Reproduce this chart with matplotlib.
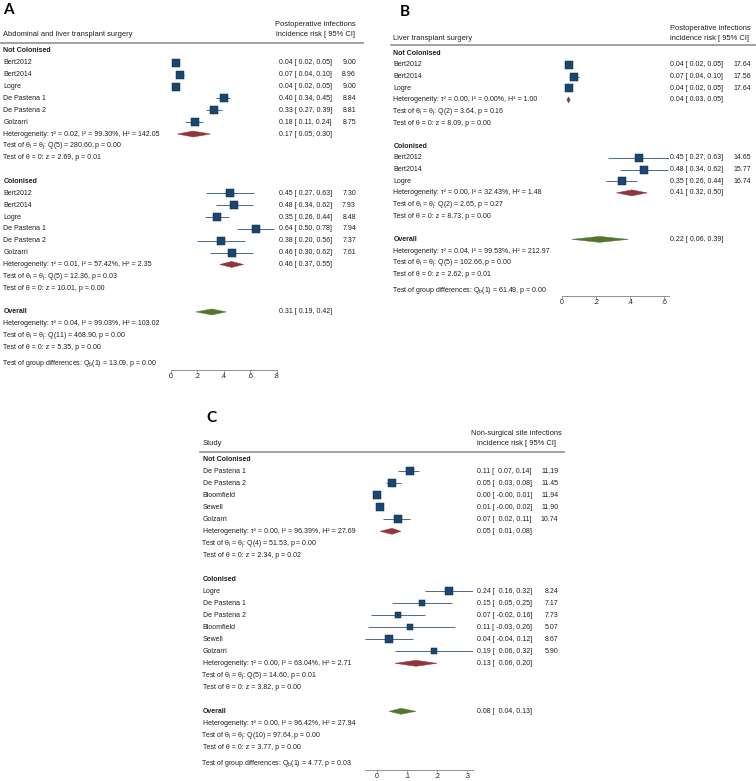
import matplotlib
matplotlib.use("Agg")
import matplotlib.pyplot as plt
from matplotlib.transforms import blended_transform_factory
from matplotlib.patches import Polygon
from matplotlib.lines import Line2D
import numpy as np

plt.rcParams['font.family'] = ['Liberation Sans', 'DejaVu Sans']
plt.rcParams['mathtext.fontset'] = 'custom'
plt.rcParams['mathtext.rm'] = 'Liberation Sans'
plt.rcParams['mathtext.it'] = 'Liberation Sans:italic'
plt.rcParams['mathtext.bf'] = 'Liberation Sans:bold'

# ---------------- DATA ----------------
# Panel A: Abdominal and liver transplant surgery
A_nc_study = ["Bert2012", "Bert2014", "Logre", "De Pastena 1", "De Pastena 2", "Golzarri"]
A_nc_est = [0.04, 0.07, 0.04, 0.40, 0.33, 0.18]
A_nc_lo = [0.02, 0.04, 0.02, 0.34, 0.27, 0.11]
A_nc_hi = [0.05, 0.10, 0.05, 0.45, 0.39, 0.24]
A_nc_wt = [9.00, 8.96, 9.00, 8.84, 8.81, 8.75]
A_nc_pool = [0.17, 0.05, 0.30]
A_nc_stats = ["0.02", "99.30%", "142.05", "5", "280.60", "0.00", "2.69", "0.01"]

A_col_study = ["Bert2012", "Bert2014", "Logre", "De Pastena 1", "De Pastena 2", "Golzarri"]
A_col_est = [0.45, 0.48, 0.35, 0.64, 0.38, 0.46]
A_col_lo = [0.27, 0.34, 0.26, 0.50, 0.20, 0.30]
A_col_hi = [0.63, 0.62, 0.44, 0.78, 0.56, 0.62]
A_col_wt = [7.30, 7.93, 8.48, 7.94, 7.37, 7.61]
A_col_pool = [0.46, 0.37, 0.55]
A_col_stats = ["0.01", "57.42%", "2.35", "5", "12.36", "0.03", "10.01", "0.00"]

A_all_pool = [0.31, 0.19, 0.42]
A_all_stats = ["0.04", "99.03%", "103.02", "11", "468.90", "0.00", "5.35", "0.00"]
A_groupdiff = ["1", "13.09", "0.00"]
A_ticks = [0, 0.2, 0.4, 0.6, 0.8]

# Panel B: Liver transplant surgery
B_nc_study = ["Bert2012", "Bert2014", "Logre"]
B_nc_est = [0.04, 0.07, 0.04]
B_nc_lo = [0.02, 0.04, 0.02]
B_nc_hi = [0.05, 0.10, 0.05]
B_nc_wt = [17.64, 17.56, 17.64]
B_nc_pool = [0.04, 0.03, 0.05]
B_nc_stats = ["0.00", "0.00%", "1.00", "2", "3.64", "0.16", "8.09", "0.00"]

B_col_study = ["Bert2012", "Bert2014", "Logre"]
B_col_est = [0.45, 0.48, 0.35]
B_col_lo = [0.27, 0.34, 0.26]
B_col_hi = [0.63, 0.62, 0.44]
B_col_wt = [14.65, 15.77, 16.74]
B_col_pool = [0.41, 0.32, 0.50]
B_col_stats = ["0.00", "32.43%", "1.48", "2", "2.65", "0.27", "8.73", "0.00"]

B_all_pool = [0.22, 0.06, 0.39]
B_all_stats = ["0.04", "99.53%", "212.97", "5", "102.66", "0.00", "2.62", "0.01"]
B_groupdiff = ["1", "61.49", "0.00"]
B_ticks = [0, 0.2, 0.4, 0.6]

# Panel C: Non-surgical site infections
C_nc_study = ["De Pastena 1", "De Pastena 2", "Bloomfield", "Sewell", "Golzarri"]
C_nc_est = [0.11, 0.05, 0.00, 0.01, 0.07]
C_nc_lo = [0.07, 0.03, -0.003, -0.003, 0.02]
C_nc_hi = [0.14, 0.08, 0.01, 0.02, 0.11]
C_nc_wt = [11.19, 11.45, 11.94, 11.90, 10.74]
C_nc_pool = [0.05, 0.01, 0.08]
C_nc_stats = ["0.00", "96.39%", "27.69", "4", "51.53", "0.00", "2.34", "0.02"]

C_col_study = ["Logre", "De Pastena 1", "De Pastena 2", "Bloomfield", "Sewell", "Golzarri"]
C_col_est = [0.24, 0.15, 0.07, 0.11, 0.04, 0.19]
C_col_lo = [0.16, 0.05, -0.02, -0.03, -0.04, 0.06]
C_col_hi = [0.32, 0.25, 0.16, 0.26, 0.12, 0.32]
C_col_wt = [8.24, 7.17, 7.73, 5.07, 8.67, 5.90]
C_col_pool = [0.13, 0.06, 0.20]
C_col_stats = ["0.00", "63.04%", "2.71", "5", "14.60", "0.01", "3.82", "0.00"]

C_all_pool = [0.08, 0.04, 0.13]
C_all_stats = ["0.00", "96.42%", "27.94", "10", "97.64", "0.00", "3.77", "0.00"]
C_groupdiff = ["1", "4.77", "0.03"]
C_ticks = [0, 0.1, 0.2, 0.3]

group_names = ["Not Colonised", "Colonised"]

# ---------------- STYLE ----------------
W, H = 756, 781
fig = plt.figure(figsize=(W / 100, H / 100), dpi=100)
fig.patch.set_facecolor('white')

NAVY = '#1A476F'
CI_COL = '#55708f'
MAROON = '#90353B'
GREEN = '#55752F'
TXT = '#1e1e1e'
FS = 5.0
HDR_FS = 5.45
MATH_SHIFT = -1.7


def fx(x):
    return x / W


def fy(y):
    return 1 - y / H


def draw_panel(L, groups, overall, gd, ticks, hdr_left, hdr_right, letter):
    xl, xr = L['xlim']
    left_px = L['x0'] + xl * L['ppu']
    right_px = L['x0'] + xr * L['ppu']
    top_px = L['y0'] - L['s']
    bot_px = L['axis_y']
    ax = fig.add_axes([fx(left_px), fy(bot_px), (right_px - left_px) / W,
                       (bot_px - top_px) / H])
    ax.set_xlim(xl, xr)
    ax.set_ylim((bot_px - L['y0']) / L['s'], -1)
    ax.patch.set_visible(False)
    for sp in ['top', 'left', 'right']:
        ax.spines[sp].set_visible(False)
    ax.spines['bottom'].set_color('#808080')
    ax.spines['bottom'].set_linewidth(0.6)
    ax.set_yticks([])
    ax.set_xticks(ticks)
    ax.set_xticklabels(["0" if t == 0 else ("%.1f" % t).lstrip('0') for t in ticks])
    ax.tick_params(axis='x', direction='out', length=1.8, width=0.5, colors='#808080',
                   labelcolor=TXT, labelsize=FS, pad=0.6)
    tr = blended_transform_factory(fig.transFigure, ax.transData)
    hd = 3.0 / L['s']

    def t(xpx, row, s, **kw):
        kw.setdefault('ha', 'left')
        ax.text(fx(xpx), row, s, transform=tr, va='center', fontsize=FS, color=TXT, **kw)

    def ci_str(e, lo, hi):
        if L['negpad']:
            return "%.2f [%6.2f, %.2f]" % (e, lo, hi)
        return "%.2f [ %.2f, %.2f]" % (e, lo, hi)

    def stats_rows(row, st):
        t(L['left'], row, "Heterogeneity: τ² = %s, I² = %s, H² = %s" % (st[0], st[1], st[2]))
        t(L['left'] + MATH_SHIFT, row + 1,
          r"Test of θ$_\mathrm{i}$ = θ$_\mathrm{j}$: Q(%s) = %s, p = %s" % (st[3], st[4], st[5]))
        t(L['left'], row + 2, "Test of θ = 0: z = %s, p = %s" % (st[6], st[7]))

    def diamond(row, pool, col):
        e, lo, hi = pool
        ax.add_patch(Polygon([(lo, row), (e, row - hd), (hi, row), (e, row + hd)],
                             closed=True, facecolor=col, edgecolor=col, lw=0.3, zorder=3))
        t(L['est_x'], row, ci_str(e, lo, hi))

    row = 0
    for name, (study, est, lo, hi, wt, pool, st) in zip(group_names, groups):
        t(L['left'], row, name, fontweight='bold')
        row += 1
        for i in range(len(study)):
            t(L['left'], row, study[i])
            ax.plot([lo[i], hi[i]], [row, row], color=CI_COL, lw=0.75, zorder=2,
                    solid_capstyle='butt')
            side = L['k'] * np.sqrt(wt[i]) * 0.72
            ax.scatter([est[i]], [row], marker='s', s=side ** 2, facecolor=NAVY,
                       edgecolor='#0c2a48', linewidths=0.35, zorder=4)
            t(L['est_x'], row, ci_str(est[i], lo[i], hi[i]))
            t(L['wt_x'], row, "%.2f" % wt[i], ha='right')
            row += 1
        diamond(row, pool, MAROON)
        stats_rows(row, st)
        row += 4
    pool, st = overall
    t(L['left'], row, "Overall", fontweight='bold')
    diamond(row, pool, GREEN)
    stats_rows(row + 1, st)
    gd_row = row + 4 + L['gd_off'] / L['s']
    t(L['left'] + MATH_SHIFT, gd_row,
      r"Test of group differences: Q$_\mathrm{b}$(%s) = %s, p = %s" % tuple(gd))

    # header
    fig.text(fx(L['left']), fy(L['hdr_y'][1]), hdr_left, fontsize=HDR_FS, color=TXT,
             ha='left', va='center')
    fig.text(fx(L['hdr_cx']), fy(L['hdr_y'][0]), hdr_right[0], fontsize=HDR_FS, color=TXT,
             ha='center', va='center')
    fig.text(fx(L['hdr_cx']), fy(L['hdr_y'][1]), hdr_right[1], fontsize=HDR_FS, color=TXT,
             ha='center', va='center')
    fig.add_artist(Line2D([fx(L['line_x'][0]), fx(L['line_x'][1])],
                          [fy(L['line_y'])] * 2, color='#9a9a9a', lw=1.3))
    fig.text(fx(L['letter_xy'][0]), fy(L['letter_xy'][1]), letter, fontsize=11,
             fontweight='bold', family=['Lato', 'DejaVu Sans'], color='black',
             ha='left', va='center')
    return ax


LA = dict(left=3.3, y0=51, s=11.86, x0=170.7, ppu=132.5, xlim=(0, 0.8), axis_y=370,
          est_x=279, wt_x=356, k=8.2 / 3.0, negpad=False, gd_off=4.3,
          hdr_y=(25, 34.5), hdr_cx=315, line_x=(1, 363), line_y=43.3, letter_xy=(3, 9.5))
LB = dict(left=393.3, y0=53.3, s=11.63, x0=561.7, ppu=171, xlim=(0, 0.63), axis_y=296,
          est_x=670, wt_x=750.7, k=8.2 / np.sqrt(17.64), negpad=False, gd_off=4.1,
          hdr_y=(28, 38), hdr_cx=710, line_x=(391, 755), line_y=44.7, letter_xy=(400, 12))
LC = dict(left=202.7, y0=459.3, s=12.0, x0=377, ppu=300, xlim=(-0.04, 0.32), axis_y=770,
          est_x=476.7, wt_x=558.3, k=8.6 / np.sqrt(11.94), negpad=True, gd_off=4.4,
          hdr_y=(433.3, 443.3), hdr_cx=516.5, line_x=(200, 564), line_y=451.7,
          letter_xy=(206, 417.5))

draw_panel(LA,
           [(A_nc_study, A_nc_est, A_nc_lo, A_nc_hi, A_nc_wt, A_nc_pool, A_nc_stats),
            (A_col_study, A_col_est, A_col_lo, A_col_hi, A_col_wt, A_col_pool, A_col_stats)],
           (A_all_pool, A_all_stats), A_groupdiff, A_ticks,
           "Abdominal and liver transplant surgery",
           ("Postoperative infections", "incidence risk [ 95% CI]"), "A")
draw_panel(LB,
           [(B_nc_study, B_nc_est, B_nc_lo, B_nc_hi, B_nc_wt, B_nc_pool, B_nc_stats),
            (B_col_study, B_col_est, B_col_lo, B_col_hi, B_col_wt, B_col_pool, B_col_stats)],
           (B_all_pool, B_all_stats), B_groupdiff, B_ticks,
           "Liver transplant surgery",
           ("Postoperative infections", "incidence risk [ 95% CI]"), "B")
draw_panel(LC,
           [(C_nc_study, C_nc_est, C_nc_lo, C_nc_hi, C_nc_wt, C_nc_pool, C_nc_stats),
            (C_col_study, C_col_est, C_col_lo, C_col_hi, C_col_wt, C_col_pool, C_col_stats)],
           (C_all_pool, C_all_stats), C_groupdiff, C_ticks,
           "Study",
           ("Non-surgical site infections", "incidence risk [ 95% CI]"), "C")

fig.savefig("out.png", dpi=100, facecolor='white')
